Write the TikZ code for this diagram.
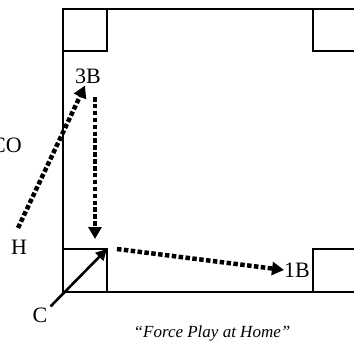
\documentclass[tikz,border=0pt]{standalone}
\usepackage{fontspec}
\setmainfont{Liberation Serif}
\usetikzlibrary{arrows.meta, positioning}

\begin{document}
\begin{tikzpicture}[x=1pt, y=-1pt,
    every node/.style={align=center, inner sep=0pt, font=\fontsize{22}{24}\selectfont},
    base/.style={draw=black, line width=1.5pt},
    run/.style={line width=4.5pt, dash pattern=on 4.5pt off 2.4pt,
        -{Triangle[length=12pt, width=13pt]}},
    throw/.style={line width=2.6pt, -{Triangle[length=11pt, width=11pt]}}]
    \useasboundingbox (0,0) rectangle (354,341);
    \clip (0,0) rectangle (354,341);

    % field and bases
    \draw[line width=2pt] (360,9) -- (63,9) -- (63,292) -- (360,292);
    \draw[base] (63,9) rectangle (107,51);
    \draw[base] (313,9) rectangle (360,51);
    \draw[base] (313,249) rectangle (360,292);
    \draw[base] (63,249) rectangle (107,292);
    \coordinate (home) at (107,249);

    % labels
    \node (co) at (0,145) [anchor=west, xshift=-9pt] {CO};
    \node (third) at (88,76) {3B};
    \node (first) at (284,270) [anchor=west] {1B};
    \node (hitter) at (19,247) {H};
    \node (catcher) at (40,315) {C};
    \node (caption) at (212,333) [font=\fontsize{17}{19}\selectfont\itshape]
        {``Force Play at Home''};

    \coordinate (hstart) at (18,228);
    \coordinate (tstart) at (95,97);
    \coordinate (hend) at (95,239);
    \coordinate (fstart) at (117,249);

    % plays
    \draw[run] (hstart) -- ([shift={(-3pt,-2pt)}]third.south);
    \draw[run] (tstart) -- (hend);
    \draw[run] (fstart) -- (first.west);
    \draw[throw] ([shift={(3pt,1pt)}]catcher.north east) -- (home);
\end{tikzpicture}
\end{document}
